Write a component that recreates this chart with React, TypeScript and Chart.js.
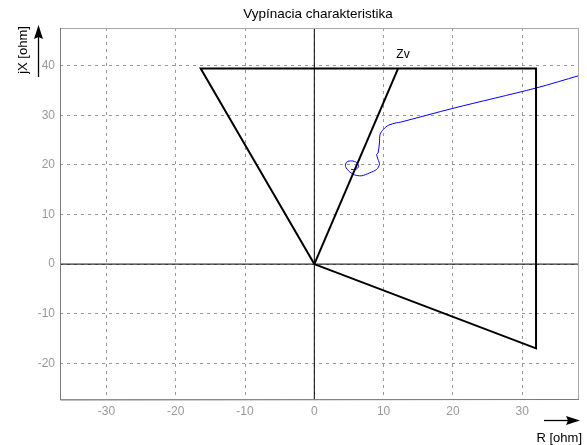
import React, { useEffect, useRef } from "react";
import { Chart, registerables } from "chart.js";

Chart.register(...registerables);

const title = "Vypínacia charakteristika";
const xLabel = "R [ohm]";
const yLabel = "jX [ohm]";
const zvLabel = "Zv";

const xRange = [-36.7, 38.2];
const yRange = [-27.4, 47.6];

// characteristic polygon
const polyR = [0, -16.4, 32.0, 32.0, 0];
const polyX = [0, 39.45, 39.45, -17.0, 0];

// Zv line
const zvR = [0, 12.1];
const zvX = [0, 39.45];
const zvLabelPos = [12.8, 42.3];

// impedance trajectory
const curveR = [38.2, 32.0, 20.0, 12.4, 11.9, 10.7, 10.0, 9.5, 9.4, 9.2, 9.0, 9.2, 9.4, 9.0, 8.0, 6.8, 5.8, 5.1, 4.5, 4.7, 5.4, 6.1, 6.4, 6.0, 5.3];
const curveX = [38.0, 35.5, 31.4, 28.6, 28.5, 28.0, 27.2, 26.2, 24.4, 22.4, 22.1, 21.1, 20.1, 19.1, 18.4, 17.8, 18.0, 18.6, 19.7, 20.6, 20.8, 20.5, 19.7, 19.1, 19.1];

const toPts = (xs: number[], ys: number[]) => xs.map((x, i) => ({ x, y: ys[i] }));

const decor = {
  id: "decor",
  afterDraw(chart: any) {
    const { ctx, chartArea: a, scales } = chart;
    ctx.save();
    // frame
    ctx.strokeStyle = "#a8a8a8";
    ctx.lineWidth = 1;
    ctx.setLineDash([]);
    ctx.strokeRect(a.left + 0.5, a.top + 0.5, a.right - a.left - 1, a.bottom - a.top - 1);
    ctx.strokeStyle = "#7a7a7a";
    ctx.beginPath();
    ctx.moveTo(a.left + 0.5, a.top);
    ctx.lineTo(a.left + 0.5, a.bottom);
    ctx.lineTo(a.right, a.bottom - 0.5);
    ctx.stroke();

    ctx.fillStyle = "#000";
    ctx.textAlign = "center";
    ctx.textBaseline = "middle";
    ctx.font = "13.5px 'Liberation Sans', Arial, sans-serif";
    ctx.fillText(title, 318, 14);

    // Zv label
    ctx.font = "12px 'Liberation Sans', Arial, sans-serif";
    ctx.fillText(zvLabel, scales.x.getPixelForValue(zvLabelPos[0]), scales.y.getPixelForValue(zvLabelPos[1]));

    // x label + arrow
    ctx.font = "13px 'Liberation Sans', Arial, sans-serif";
    ctx.textAlign = "right";
    ctx.fillText(xLabel, 582, 438);
    ctx.strokeStyle = "#000";
    ctx.lineWidth = 1.3;
    ctx.beginPath();
    ctx.moveTo(544, 420.5);
    ctx.lineTo(572, 420.5);
    ctx.stroke();
    ctx.beginPath();
    ctx.moveTo(580, 420.5);
    ctx.lineTo(566, 416);
    ctx.lineTo(568, 420.5);
    ctx.lineTo(566, 425);
    ctx.closePath();
    ctx.fill();

    // y label + arrow
    ctx.save();
    ctx.translate(23, 50);
    ctx.rotate(-Math.PI / 2);
    ctx.textAlign = "center";
    ctx.fillText(yLabel, 0, 0);
    ctx.restore();
    ctx.beginPath();
    ctx.moveTo(38.5, 77);
    ctx.lineTo(38.5, 34);
    ctx.stroke();
    ctx.beginPath();
    ctx.moveTo(38.5, 25);
    ctx.lineTo(34, 39);
    ctx.lineTo(38.5, 37);
    ctx.lineTo(43, 39);
    ctx.closePath();
    ctx.fill();
    ctx.restore();
  },
};

export default function App() {
  const ref = useRef<HTMLCanvasElement>(null);
  useEffect(() => {
    const tickFont = { family: "'Liberation Sans', Arial, sans-serif", size: 12 };
    const chart = new Chart(ref.current!, {
      type: "scatter",
      data: {
        datasets: [
          { data: toPts([xRange[0], xRange[1]], [0, 0]), borderColor: "#000", borderWidth: 1, showLine: true, pointRadius: 0 },
          { data: toPts([0, 0], [yRange[0], yRange[1]]), borderColor: "#000", borderWidth: 1, showLine: true, pointRadius: 0 },
          { data: toPts(polyR, polyX), borderColor: "#000", borderWidth: 2, showLine: true, pointRadius: 0 },
          { data: toPts(zvR, zvX), borderColor: "#000", borderWidth: 2, showLine: true, pointRadius: 0 },
          { data: toPts(curveR, curveX), borderColor: "#0000ff", borderWidth: 1, showLine: true, pointRadius: 0, tension: 0.3 },
        ],
      },
      options: {
        responsive: false,
        animation: false,
        layout: { padding: { left: 0, top: 28, right: 8, bottom: 0 } },
        plugins: { legend: { display: false }, tooltip: { enabled: false }, title: { display: false } },
        scales: {
          x: {
            type: "linear",
            min: xRange[0],
            max: xRange[1],
            ticks: { stepSize: 10, includeBounds: false, color: "#999", font: tickFont, padding: 4 },
            grid: { color: "#999999", drawTicks: false },
            border: { display: false, dash: [3, 4] },
            afterFit: (s: any) => { s.height = 45; },
          },
          y: {
            type: "linear",
            min: yRange[0],
            max: yRange[1],
            ticks: { stepSize: 10, includeBounds: false, color: "#999", font: tickFont, padding: 5 },
            grid: { color: "#999999", drawTicks: false },
            border: { display: false, dash: [3, 4] },
            afterFit: (s: any) => { s.width = 60; },
          },
        },
      },
      plugins: [decor],
    } as any);
    return () => chart.destroy();
  }, []);
  return (
    <div style={{ position: "fixed", left: 0, top: 0, width: 587, height: 445, background: "#fff" }}>
      <canvas ref={ref} width={587} height={445} />
    </div>
  );
}
